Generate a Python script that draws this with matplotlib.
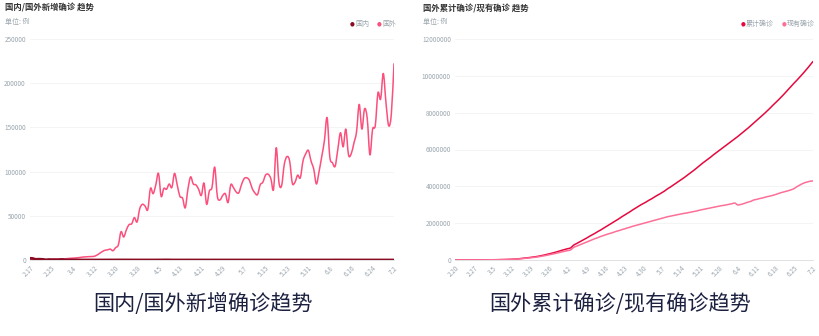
import numpy as np
import pandas as pd
import matplotlib
matplotlib.use("Agg")
import matplotlib.pyplot as plt
import matplotlib.dates as mdates
from matplotlib.path import Path
from matplotlib.patches import PathPatch

plt.rcParams['font.family'] = ['Noto Sans CJK SC', 'DejaVu Sans']

# ---- data: left chart, daily new cases 2.17 - 7.2 ----
left_dates = pd.date_range("2020-02-17", "2020-07-02", freq="D")
foreign_new = [
    50, 60, 80, 100, 150, 200, 250, 300, 400, 600,
    800, 900, 1100, 1300, 1600, 1900, 2100, 2300, 2600, 3000,
    3400, 3600, 3800, 3900, 4200, 5500, 7500, 9500, 11000, 11500,
    12300, 10500, 14000, 17000, 32000, 26000, 34000, 40000, 41000, 48000,
    43000, 58000, 63000, 61000, 57000, 81000, 75000, 85000, 98000, 72000,
    81000, 80000, 86000, 82000, 98000, 85000, 72000, 70000, 59000, 80000,
    94000, 86000, 85000, 80000, 73000, 87000, 63000, 78000, 82000, 105000,
    72000, 68000, 73000, 75000, 65000, 85000, 82000, 77000, 76000, 85000,
    92000, 93000, 90000, 81000, 76000, 74000, 85000, 88000, 96000, 97000,
    92000, 80000, 127000, 88000, 84000, 108000, 117000, 112000, 87000, 88000,
    96000, 93000, 112000, 120000, 124000, 112000, 103000, 86000, 100000, 117000,
    135000, 161000, 117000, 110000, 106000, 125000, 144000, 128000, 148000, 119000,
    120000, 132000, 145000, 176000, 148000, 171000, 160000, 119000, 148000, 152000,
    189000, 182000, 211000, 178000, 152000, 165000, 222000,
]
domestic_new = [
    1886, 1749, 820, 892, 826, 647, 218, 515, 410, 439,
    331, 433, 574, 205, 126, 119, 139, 143, 99, 44,
    40, 19, 24, 15, 8, 11, 20, 16, 21, 39,
    41, 46, 39, 78, 47, 67, 55, 54, 45, 31,
    35, 31, 34, 48, 25, 30, 32, 39, 62, 46,
    99, 108, 89, 27, 16, 11, 12, 11, 16, 30,
    12, 10, 6, 6, 22, 3, 2, 1, 4, 14,
    1, 2, 1, 17, 5, 3, 7, 8, 11, 4,
    2, 6, 3, 4, 5, 3, 11, 3, 2, 4,
    7, 0, 4, 2, 4, 1, 3, 2, 1, 4,
    5, 4, 3, 2, 1, 5, 4, 3, 2, 1,
    3, 7, 12, 9, 57, 36, 49, 40, 27, 31,
    22, 28, 26, 25, 19, 13, 12, 11, 7, 22,
    17, 19, 14, 8, 5, 3, 5,
]

# ---- data: right chart, cumulative / existing 2.20 - 7.2 ----
right_dates = pd.date_range("2020-02-20", "2020-07-02", freq="D")
foreign_total = [
    1100, 1200, 1400, 1700, 2100, 2500, 3000, 3700, 4500, 5500,
    6600, 7900, 9300, 11000, 13000, 15300, 17800, 20700, 24000, 28000,
    33000, 40000, 47000, 56000, 72000, 88000, 105000, 120000, 140000, 160000,
    180000, 205000, 235000, 265000, 300000, 335000, 370000, 410000, 450000, 495000,
    540000, 580000, 620000, 660000, 800000, 880000, 960000, 1040000, 1120000, 1200000,
    1290000, 1370000, 1450000, 1540000, 1620000, 1710000, 1800000, 1890000, 1980000, 2070000,
    2160000, 2250000, 2350000, 2440000, 2530000, 2620000, 2720000, 2810000, 2900000, 2990000,
    3070000, 3150000, 3240000, 3320000, 3410000, 3500000, 3580000, 3670000, 3760000, 3870000,
    3960000, 4060000, 4160000, 4260000, 4360000, 4460000, 4570000, 4680000, 4790000, 4900000,
    5020000, 5140000, 5260000, 5370000, 5480000, 5590000, 5710000, 5820000, 5930000, 6040000,
    6150000, 6260000, 6370000, 6480000, 6590000, 6700000, 6820000, 6940000, 7060000, 7180000,
    7310000, 7440000, 7570000, 7700000, 7830000, 7960000, 8100000, 8240000, 8390000, 8530000,
    8670000, 8820000, 8970000, 9130000, 9290000, 9450000, 9610000, 9760000, 9920000, 10080000,
    10250000, 10420000, 10600000, 10780000,
]
foreign_existing = [
    800, 850, 950, 1200, 1500, 1800, 2200, 2800, 3500, 4400,
    5400, 6600, 7900, 9400, 11200, 13200, 15400, 18000, 21000, 24500,
    29000, 35000, 41000, 49000, 62000, 77000, 90000, 103000, 120000, 137000,
    154000, 175000, 200000, 225000, 255000, 285000, 315000, 345000, 380000, 415000,
    450000, 485000, 515000, 550000, 680000, 740000, 800000, 860000, 920000, 980000,
    1040000, 1100000, 1160000, 1210000, 1270000, 1320000, 1370000, 1420000, 1460000, 1510000,
    1560000, 1600000, 1650000, 1690000, 1740000, 1780000, 1830000, 1870000, 1910000, 1950000,
    1990000, 2030000, 2070000, 2110000, 2150000, 2190000, 2230000, 2270000, 2310000, 2350000,
    2380000, 2410000, 2440000, 2470000, 2500000, 2530000, 2550000, 2580000, 2610000, 2640000,
    2670000, 2710000, 2740000, 2770000, 2800000, 2830000, 2860000, 2890000, 2920000, 2950000,
    2970000, 3000000, 3030000, 3060000, 3090000, 2990000, 3010000, 3050000, 3100000, 3150000,
    3190000, 3260000, 3290000, 3330000, 3360000, 3400000, 3440000, 3470000, 3510000, 3550000,
    3600000, 3650000, 3690000, 3730000, 3770000, 3820000, 3880000, 3980000, 4060000, 4140000,
    4200000, 4240000, 4280000, 4290000,
]

GRID = "#f3f3f3"
TICK = "#9aa5ad"
TITLE = "#333333"
CAPTION = "#1c2140"


def smooth_line(ax, dates, values, color, lw):
    # draw a curved line through the points (bezier segments, like a "smooth" series)
    x = mdates.date2num(dates.to_pydatetime())
    y = np.asarray(values, dtype=float)
    pts = np.column_stack([x, y])
    verts = [pts[0]]
    codes = [Path.MOVETO]
    n = len(pts)
    for i in range(n - 1):
        p0 = pts[max(i - 1, 0)]
        p1 = pts[i]
        p2 = pts[i + 1]
        p3 = pts[min(i + 2, n - 1)]
        c1 = p1 + (p2 - p0) / 6.0
        c2 = p2 - (p3 - p1) / 6.0
        verts += [c1, c2, p2]
        codes += [Path.CURVE4] * 3
    ax.add_patch(PathPatch(Path(verts, codes), facecolor="none", edgecolor=color,
                           linewidth=lw, capstyle="round", joinstyle="round"))


def style_axes(ax, dates, step, ymax, yticks):
    ax.set_xlim(dates[0], dates[-1])
    ax.set_ylim(0, ymax)
    ax.set_yticks(yticks)
    ax.set_yticklabels([str(v) for v in yticks], fontsize=4.6, color=TICK)
    ticks = dates[::step]
    ax.set_xticks(ticks)
    ax.set_xticklabels([f"{d.month}.{d.day}" for d in ticks], fontsize=4.6,
                       color=TICK, rotation=45, ha="right", va="top",
                       rotation_mode="anchor")
    ax.tick_params(length=0, pad=3)
    for s in ["top", "right", "left"]:
        ax.spines[s].set_visible(False)
    ax.spines["bottom"].set_color("#dddddd")
    ax.spines["bottom"].set_linewidth(0.6)
    ax.grid(axis="y", color=GRID, linewidth=0.6)
    ax.set_axisbelow(True)


fig = plt.figure(figsize=(8.2, 3.36), dpi=100)
W, H = 820, 336

# left chart
ax1 = fig.add_axes([30 / W, 1 - 260 / H, 364 / W, 221 / H])
smooth_line(ax1, left_dates, foreign_new, "#fb4f7c", 1.1)
smooth_line(ax1, left_dates, domestic_new, "#8a0b22", 2.0)
style_axes(ax1, left_dates, 8, 250000, [0, 50000, 100000, 150000, 200000, 250000])

# right chart
ax2 = fig.add_axes([455 / W, 1 - 260 / H, 358 / W, 221 / H])
smooth_line(ax2, right_dates, foreign_total, "#e5093f", 1.1)
smooth_line(ax2, right_dates, foreign_existing, "#fc6f98", 1.1)
style_axes(ax2, right_dates, 7, 12000000,
           [0, 2000000, 4000000, 6000000, 8000000, 10000000, 12000000])

# chart titles / units
fig.text(5 / W, 1 - 8 / H, "国内/国外新增确诊 趋势", fontsize=6, fontweight="bold",
         color=TITLE, va="center")
fig.text(5 / W, 1 - 22 / H, "单位: 例", fontsize=5, color=TICK, va="center")
fig.text(423 / W, 1 - 9 / H, "国外累计确诊/现有确诊 趋势", fontsize=6, fontweight="bold",
         color=TITLE, va="center")
fig.text(423 / W, 1 - 22 / H, "单位: 例", fontsize=5, color=TICK, va="center")


def legend_item(x, y, color, label):
    fig.text(x / W, 1 - y / H, "●", fontsize=4, color=color, va="center",
             family="DejaVu Sans")
    fig.text((x + 5) / W, 1 - y / H, label, fontsize=5, color=TICK, va="center")


legend_item(350, 24, "#8a0b22", "国内")
legend_item(377, 24, "#fb4f7c", "国外")
legend_item(741, 24, "#e5093f", "累计确诊")
legend_item(782, 24, "#fc6f98", "现有确诊")

# captions under the charts
fig.text(203 / W, 1 - 304 / H, "国内/国外新增确诊趋势", fontsize=15.2, color=CAPTION,
         ha="center", va="center")
fig.text(620 / W, 1 - 304 / H, "国外累计确诊/现有确诊趋势", fontsize=15.2, color=CAPTION,
         ha="center", va="center")

fig.savefig("out.png", dpi=100)
